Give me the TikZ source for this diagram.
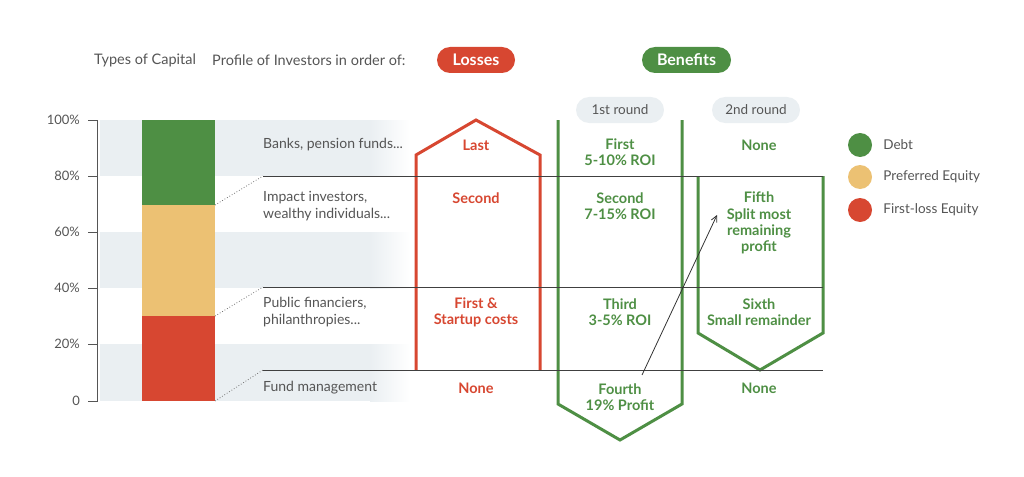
\documentclass[tikz,border=0pt]{standalone}
\usepackage{fontspec}
\setmainfont{Lato}
\usepackage{tikz}
\usetikzlibrary{positioning,arrows.meta}
\definecolor{debtgreen}{HTML}{4E8F44}
\definecolor{prefyellow}{HTML}{ECC173}
\definecolor{lossred}{HTML}{D74731}
\definecolor{txtgray}{HTML}{555555}
\definecolor{bandgray}{HTML}{EAEFF2}
\newcommand{\txtsize}{\fontsize{14}{16.3}\selectfont}
\newcommand{\boldsize}{\fontsize{14.5}{16.3}\selectfont\bfseries}

\begin{document}
\begin{tikzpicture}[x=1pt, y=-1pt,
  lbl/.style={font=\txtsize, text=txtgray, align=left, anchor=west, inner sep=0pt},
  ticklbl/.style={font=\fontsize{13}{16}\selectfont, text=txtgray, anchor=east, inner sep=0pt},
  redtxt/.style={font=\boldsize, text=lossred, align=center, inner sep=0pt},
  greentxt/.style={font=\boldsize, text=debtgreen, align=center, inner sep=0pt},
  pill/.style={rounded corners=13pt, minimum height=26pt, text=white, font=\fontsize{16}{18}\selectfont\bfseries},
  roundpill/.style={fill=bandgray, rounded corners=13pt, minimum height=26pt, minimum width=88pt, text=txtgray, font=\fontsize{13.5}{16}\selectfont},
  rule/.style={draw=black!75, line width=0.9pt},
  dots/.style={dotted, draw=black!55, line width=0.8pt},
  redcol/.style={draw=lossred, line width=3pt, line join=miter},
  greencol/.style={draw=debtgreen, line width=3pt, line join=miter},
  dot/.style={circle, minimum size=24pt, inner sep=0pt}
]
  \useasboundingbox (0,0) rectangle (1024,476);

  % background bands
  \foreach \ya/\yb in {120/176, 232/288, 344/401}{
    \fill[bandgray] (100,\ya) rectangle (370,\yb);
    \shade[left color=bandgray, right color=white] (370,\ya) rectangle (410,\yb);
  }

  % axis
  \draw[draw=txtgray, line width=1pt] (88,120) -- (97,120) -- (97,401) -- (88,401);
  \foreach \y/\t in {120/100\%, 176/80\%, 232/60\%, 288/40\%, 344/20\%, 401/0}{
    \draw[draw=txtgray, line width=1pt] (88,\y) -- (97,\y);
    \node[ticklbl] at (80,\y) {\t};
  }

  % stacked bar
  \fill[debtgreen] (142,120) rectangle (215,205);
  \fill[prefyellow] (142,205) rectangle (215,316);
  \fill[lossred] (142,316) rectangle (215,401);

  \coordinate (bar1) at (215,205);
  \coordinate (bar2) at (215,316);
  \coordinate (bar3) at (215,401);
  \coordinate (rule1) at (263,176);
  \coordinate (rule2) at (263,287);
  \coordinate (rule3) at (263,370);
  \coordinate (rule1end) at (823,176);
  \coordinate (rule2end) at (823,287);
  \coordinate (rule3end) at (823,370);
  \draw[dots] (bar1) -- (rule1);
  \draw[dots] (bar2) -- (rule2);
  \draw[dots] (bar3) -- (rule3);

  % header
  \node[lbl, font=\fontsize{14.5}{16}\selectfont] (captypes) at (94,60) {Types of Capital};
  \node[lbl, font=\fontsize{14.5}{16}\selectfont] (profile) at (212,60) {Profile of Investors in order of:};
  \node[pill, fill=lossred, minimum width=78pt] (losses) at (476,60) {Losses};
  \node[pill, fill=debtgreen, minimum width=89pt] (benefits) at (686.5,60) {Benefits};
  \node[roundpill] (round1) at (620,110) {1st round};
  \node[roundpill] (round2) at (756,110) {2nd round};

  % investor rows
  \node[lbl] (banks) at (263,145) {Banks, pension funds...};
  \node[lbl] (impact) at (263,206) {Impact investors,\\wealthy individuals...};
  \node[lbl] (public) at (263,312) {Public financiers,\\philanthropies...};
  \node[lbl] (fundmgmt) at (263,388) {Fund management};

  % columns
  \draw[redcol] (416,370) -- (416,155) -- (476,120) -- (540,155) -- (540,370);
  \draw[greencol] (558,120) -- (558,404) -- (620,440) -- (682,404) -- (682,120);
  \draw[greencol] (698,176) -- (698,333) -- (760,370) -- (823,333) -- (823,176);

  \draw[rule] (rule1) -- (rule1end);
  \draw[rule] (rule2) -- (rule2end);
  \draw[rule] (rule3) -- (rule3end);

  \node[redtxt] (lossA) at (476,145) {Last};
  \node[redtxt] (lossB) at (476,198) {Second};
  \node[redtxt] (lossC) at (476,312) {First \&\\Startup costs};
  \node[redtxt] (lossD) at (476,388) {None};

  \node[greentxt] (firstA) at (620,152) {First\\5-10\% ROI};
  \node[greentxt] (firstB) at (620,206) {Second\\7-15\% ROI};
  \node[greentxt] (firstC) at (620,312) {Third\\3-5\% ROI};
  \node[greentxt] (firstD) at (620,397) {Fourth\\19\% Profit};

  \node[greentxt] (secondA) at (759,145) {None};
  \node[greentxt] (secondB) at (759,223) {Fifth\\Split most\\remaining\\profit};
  \node[greentxt] (secondC) at (759,312) {Sixth\\Small remainder};
  \node[greentxt] (secondD) at (759,388) {None};

  \coordinate (arrowfrom) at (642,375);
  \coordinate (arrowto) at (717,215);
  \draw[draw=black!80, line width=0.8pt, -{Straight Barb[length=6pt,width=6pt]}] (arrowfrom) -- (arrowto);

  % legend
  \node[dot, fill=debtgreen] (legdebt) at (860,145) {};
  \node[dot, fill=prefyellow] (legpref) at (860,177) {};
  \node[dot, fill=lossred] (legloss) at (860,210) {};
  \node[lbl, font=\fontsize{13.5}{16}\selectfont, right=11pt of legdebt] (legdebttxt) {Debt};
  \node[lbl, font=\fontsize{13.5}{16}\selectfont, right=11pt of legpref] (legpreftxt) {Preferred Equity};
  \node[lbl, font=\fontsize{13.5}{16}\selectfont, right=11pt of legloss] (leglosstxt) {First-loss Equity};
\end{tikzpicture}
\end{document}
